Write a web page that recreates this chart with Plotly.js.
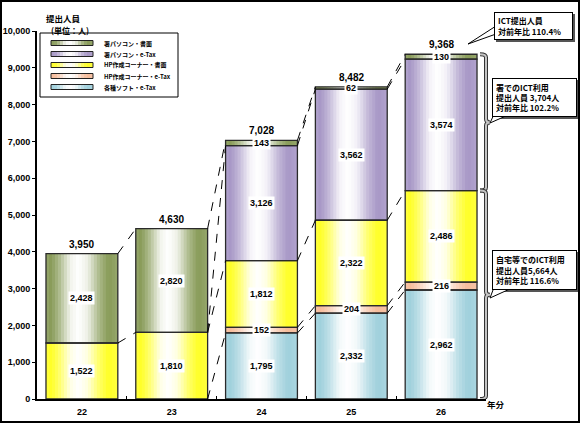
<!DOCTYPE html>
<html>
<head>
<meta charset="utf-8">
<script src="https://cdn.plot.ly/plotly-3.0.1.min.js"></script>
<style>
html,body{margin:0;padding:0;background:#fff;}
#wrap{position:relative;width:580px;height:423px;}
#chart{width:580px;height:423px;}
#frame{position:absolute;left:0;top:0;width:576px;height:419px;border:2px solid #000;pointer-events:none;}
</style>
</head>
<body>
<div id="wrap"><div id="chart"></div><div id="frame"></div></div>
<script>
// ---- data ----
const categories = ['22', '23', '24', '25', '26'];
const seriesNames = ['各種ソフト・e-Tax', 'HP作成コーナー・e-Tax', 'HP作成コーナー・書面', '署パソコン・e-Tax', '署パソコン・書面'];
const softETax  = [null, null, 1795, 2332, 2962];
const hpETax    = [null, null, 152, 204, 216];
const hpShomen  = [1522, 1810, 1812, 2322, 2486];
const shoETax   = [null, null, 3126, 3562, 3574];
const shoShomen = [2428, 2820, 143, 62, 130];
const totals    = [3950, 4630, 7028, 8482, 9368];
const yTicks    = [0, 1000, 2000, 3000, 4000, 5000, 6000, 7000, 8000, 9000, 10000];
const calloutICT  = ['ICT提出人員', '対前年比 110.4%'];
const calloutSho  = ['署でのICT利用', '提出人員 3,704人', '対前年比 102.2%'];
const calloutHome = ['自宅等でのICT利用', '提出人員5,664人', '対前年比 116.6%'];

// ---- styling ----
const series = [softETax, hpETax, hpShomen, shoETax, shoShomen];
const baseColors = ['#9fd0dc', '#f6bc9b', '#ffff26', '#a797c6', '#889b58'];
const W = 0.8, N = 24;
const L = 37, R = 486, T = 31, B = 399;
const px = x => (x - L) / (R - L);
const py = y => (B - y) / (B - T);
const numFont = 'Liberation Sans, Arial, sans-serif';
const jpFont = 'Noto Sans CJK JP, sans-serif';

function hexToRgb(h){return [1,3,5].map(i=>parseInt(h.substr(i,2),16));}
const prof = [[0,0.12],[0.07,0],[0.18,0.3],[0.34,0.88],[0.45,1],[0.58,0.85],[0.74,0.3],[0.87,0],[1,0.12]];
function profile(t){
  for(let i=1;i<prof.length;i++){
    if(t<=prof[i][0]){const a=prof[i-1],b=prof[i];const f=(t-a[0])/(b[0]-a[0]);return a[1]+(b[1]-a[1])*f;}
  }
  return prof[prof.length-1][1];
}
function mixColor(hex,m){
  const c=hexToRgb(hex);
  return 'rgb('+c.map(v=>Math.round(v*(1-m)+255*m)).join(',')+')';
}

// cumulative bases
const bases = series.map(()=>[]);
const tops = series.map(()=>[]);
for(let i=0;i<categories.length;i++){
  let acc=0;
  for(let s=0;s<series.length;s++){
    const v=series[s][i];
    bases[s][i]= v==null?null:acc;
    if(v!=null) acc+=v;
    tops[s][i]=acc;
  }
}
function boundary(k,i){return k<0?0:tops[k][i];}

// gradient bars: each segment drawn as narrow bar strips
const traces=[];
for(let s=0;s<series.length;s++){
  for(let k=0;k<N;k++){
    const off=-W/2+k*W/N;
    const wd=Math.min(W/N*1.5, W/2-off);
    traces.push({type:'bar',x:categories.slice(),y:series[s].slice(),base:bases[s].slice(),width:wd,offset:off,
      name:seriesNames[s],marker:{color:mixColor(baseColors[s],profile((k+0.5)/N)),line:{width:0}},
      showlegend:false,hoverinfo:'skip'});
  }
}

const annotations=[];
const shapes=[];
// segment outlines
for(let s=0;s<series.length;s++){
  for(let i=0;i<categories.length;i++){
    const v=series[s][i];
    if(v==null) continue;
    shapes.push({type:'rect',xref:'x',yref:'y',x0:i-W/2,x1:i+W/2,y0:bases[s][i],y1:bases[s][i]+v,
      line:{color:'#2a2a2a',width:1.3},fillcolor:'rgba(0,0,0,0)',layer:'above'});
  }
}
// segment labels
for(let s=0;s<series.length;s++){
  for(let i=0;i<categories.length;i++){
    const v=series[s][i];
    if(v==null) continue;
    annotations.push({x:i,y:bases[s][i]+v/2,xref:'x',yref:'y',text:v.toLocaleString('en-US'),
      showarrow:false,bgcolor:'#fff',borderpad:1,font:{family:numFont,size:9,weight:'bold',color:'#000'}});
  }
}
for(let i=0;i<categories.length;i++){
  annotations.push({x:i,y:totals[i],xref:'x',yref:'y',yanchor:'bottom',yshift:2,
    text:totals[i].toLocaleString('en-US'),showarrow:false,font:{family:numFont,size:10,weight:'bold',color:'#000'}});
}
const connectors=[
  [[2,2],[4,4]],
  [[-1,0],[2,2],[2,3],[4,4]],
  [[0,0],[1,1],[2,2],[3,3],[4,4]],
  [[0,0],[1,1],[2,2],[3,3],[4,4]]
];
connectors.forEach((list,i)=>{
  list.forEach(([a,b])=>{
    shapes.push({type:'line',xref:'x',yref:'y',x0:i+W/2,x1:i+1-W/2,y0:boundary(a,i),y1:boundary(b,i+1),
      line:{color:'#000',width:1,dash:'dash'},layer:'above'});
  });
});
const last=categories.length-1;
function brace(top,bot){
  const xa=px(480),xb=px(486),xc=px(490),d=90,mid=(top+bot)/2;
  return `M ${xa},${top} Q ${xb},${top} ${xb},${top-d} L ${xb},${mid+d} Q ${xb},${mid} ${xc},${mid} Q ${xb},${mid} ${xb},${mid-d} L ${xb},${bot+d} Q ${xb},${bot} ${xa},${bot}`;
}
const braceTop=totals[last], braceMid=tops[2][last];
[brace(braceTop,braceMid),brace(braceMid,0)].forEach(p=>{
  shapes.push({type:'path',xref:'paper',yref:'y',path:p,line:{color:'#333',width:4},fillcolor:'rgba(0,0,0,0)',layer:'above'});
  shapes.push({type:'path',xref:'paper',yref:'y',path:p,line:{color:'#c4c4c4',width:2},fillcolor:'rgba(0,0,0,0)',layer:'above'});
});
function callout(lines,x0,y0,x1,y1,tail){
  shapes.push({type:'rect',xref:'paper',yref:'paper',x0:px(x0+2),x1:px(x1+2),y0:py(y1+2),y1:py(y0+2),
    fillcolor:'#555',line:{width:0},layer:'above'});
  shapes.push({type:'path',xref:'paper',yref:'paper',
    path:`M ${px(tail[0][0])},${py(tail[0][1])} L ${px(tail[2][0])},${py(tail[2][1])} L ${px(tail[1][0])},${py(tail[1][1])} Z`,
    fillcolor:'#fff',line:{color:'#000',width:1},layer:'above'});
  annotations.push({xref:'paper',yref:'paper',x:px((x0+x1)/2),y:py((y0+y1)/2),xanchor:'center',yanchor:'middle',
    width:(x1-x0)-8,height:(y1-y0)-8,align:'left',valign:'middle',borderpad:3,bgcolor:'#fff',bordercolor:'#000',borderwidth:1,
    text:lines.join('<br>'),showarrow:false,font:{family:jpFont,size:8,weight:'bold',color:'#000'}});
}
callout(calloutICT,494,12,573,40,[[496,26],[496,34],[468,44]]);
callout(calloutSho,492,78,577,117,[[496,110],[508,115],[490,123]]);
callout(calloutHome,492,250,577,290,[[496,282],[512,288],[490,298]]);

// custom legend
shapes.push({type:'rect',xref:'paper',yref:'paper',x0:px(40),x1:px(178),y0:py(97),y1:py(33),
  fillcolor:'#fff',line:{color:'#000',width:1},layer:'above'});
const legRows=[43,54,65,76,87];
const legOrder=[4,3,2,1,0];
legOrder.forEach((s,r)=>{
  const yc=legRows[r], sx0=51, sx1=93, M=14;
  for(let k=0;k<M;k++){
    const a=sx0+(sx1-sx0)*k/M, b=Math.min(sx1, a+(sx1-sx0)/M*1.5);
    shapes.push({type:'rect',xref:'paper',yref:'paper',x0:px(a),x1:px(b),y0:py(yc+2.5),y1:py(yc-2.5),
      fillcolor:mixColor(baseColors[s],profile((k+0.5)/M)),line:{width:0},layer:'above'});
  }
  shapes.push({type:'rect',xref:'paper',yref:'paper',x0:px(sx0),x1:px(sx1),y0:py(yc+2.5),y1:py(yc-2.5),
    line:{color:'#222',width:1},fillcolor:'rgba(0,0,0,0)',layer:'above'});
  annotations.push({xref:'paper',yref:'paper',x:px(102),y:py(yc),xanchor:'left',yanchor:'middle',
    text:seriesNames[s],showarrow:false,font:{family:jpFont,size:6,weight:'bold',color:'#000'}});
});
annotations.push({xref:'paper',yref:'paper',x:px(44),y:py(10),text:'提出人員',showarrow:false,
  font:{family:jpFont,size:8.5,weight:'bold',color:'#000'}});
annotations.push({xref:'paper',yref:'paper',x:px(49),y:py(23),text:'(単位：人)',showarrow:false,
  font:{family:jpFont,size:8,weight:'bold',color:'#000'}});
annotations.push({xref:'paper',yref:'paper',x:px(485),y:py(412),xanchor:'left',text:'年分',showarrow:false,
  font:{family:jpFont,size:8.5,weight:'bold',color:'#000'}});

const layout={
  width:580,height:423,
  margin:{l:L,r:580-R,t:T,b:423-B,pad:0},
  paper_bgcolor:'#fff',plot_bgcolor:'#fff',
  barmode:'overlay',showlegend:false,
  xaxis:{type:'category',range:[-0.5,categories.length-0.5],showline:true,linecolor:'#000',linewidth:2,showgrid:false,zeroline:false,
    ticks:'inside',ticklen:3,tickson:'boundaries',tickcolor:'#000',tickangle:0,
    tickfont:{family:numFont,size:9,weight:'bold',color:'#000'},ticklabelstandoff:3,fixedrange:true},
  yaxis:{range:[0,10000],tickvals:yTicks,tickformat:',d',showline:true,linecolor:'#000',linewidth:2,
    showgrid:false,zeroline:false,ticks:'outside',ticklen:3,tickcolor:'#000',
    tickfont:{family:numFont,size:9,weight:'bold',color:'#000'},fixedrange:true},
  annotations:annotations,shapes:shapes
};
Plotly.newPlot('chart',traces,layout,{displayModeBar:false,staticPlot:true});
</script>
</body>
</html>
